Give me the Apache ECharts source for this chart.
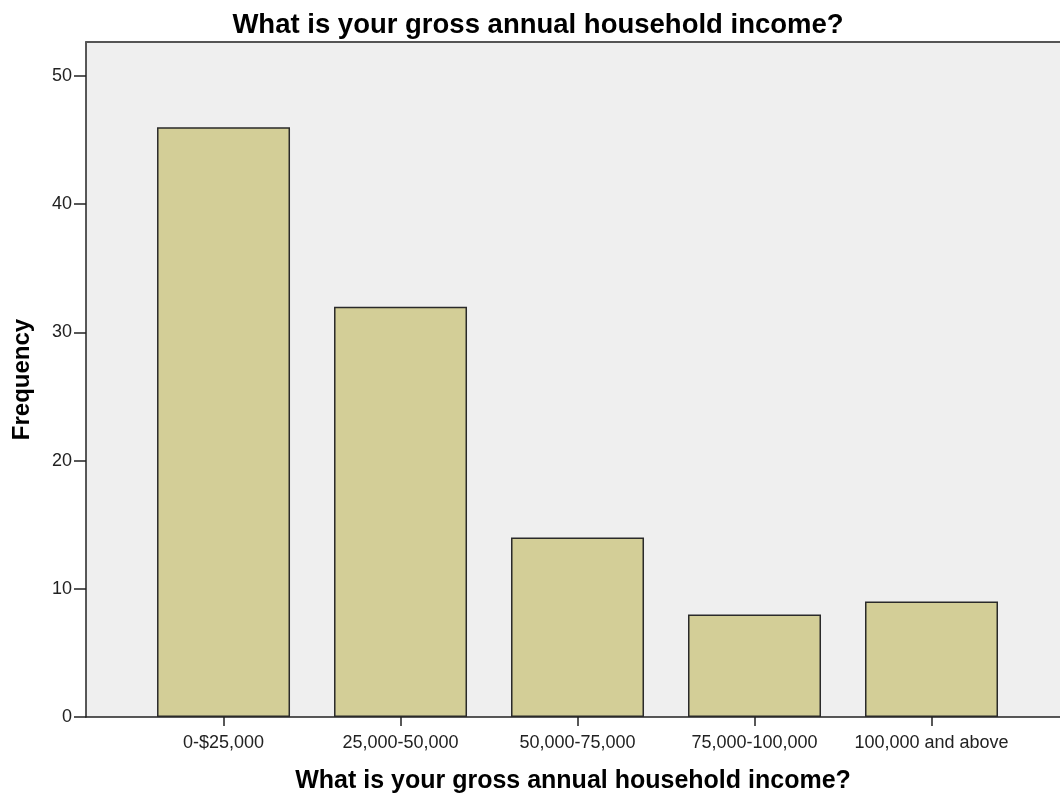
<!DOCTYPE html>
<html>
<head>
<meta charset="utf-8">
<script src="https://cdn.jsdelivr.net/npm/echarts@6/dist/echarts.min.js"></script>
<style>
  html, body { margin: 0; padding: 0; background: #fff; }
  #main { width: 1060px; height: 794px; }
</style>
</head>
<body>
<div id="main"></div>
<script>
// income categories and counts
var categories = ['0-$25,000', '25,000-50,000', '50,000-75,000', '75,000-100,000', '100,000 and above'];
var frequency = [46, 32, 14, 8, 9];
var yTicks = [0, 10, 20, 30, 40, 50];

var points = [];
for (var i = 0; i < frequency.length; i++) {
  points.push([i, frequency[i]]);
}

var font = 'Liberation Sans, Arial, sans-serif';
var myChart = echarts.init(document.getElementById('main'));
var option = {
  animation: false,
  title: {
    text: 'What is your gross annual household income?',
    left: 533,
    textAlign: 'center',
    top: 6,
    textStyle: {
      fontFamily: font,
      fontSize: 27.5,
      fontWeight: 'bold',
      color: '#000'
    }
  },
  grid: {
    left: 86,
    right: 0,
    top: 42,
    bottom: 77,
    outerBoundsMode: 'none',
    show: true,
    backgroundColor: '#efefef',
    borderWidth: 0
  },
  xAxis: [{
    type: 'value',
    min: -0.777,
    max: 4.726,
    name: 'What is your gross annual household income?',
    nameLocation: 'middle',
    nameGap: 52,
    nameTextStyle: {
      fontFamily: font,
      fontSize: 25,
      fontWeight: 'bold',
      color: '#000'
    },
    splitLine: { show: false },
    axisLine: { show: true, onZero: false, lineStyle: { color: '#222', width: 1.5 } },
    axisTick: {
      show: true,
      length: 9,
      lineStyle: { color: '#222', width: 1.5 },
      customValues: [0, 1, 2, 3, 4]
    },
    axisLabel: {
      customValues: [0, 1, 2, 3, 4],
      formatter: function (v) { return categories[Math.round(v)]; },
      margin: 17,
      fontFamily: font,
      fontSize: 18,
      color: '#222'
    }
  }, {
    type: 'value',
    position: 'top',
    min: 0,
    max: 1,
    axisLine: { show: true, onZero: false, lineStyle: { color: '#555', width: 2 } },
    axisTick: { show: false },
    axisLabel: { show: false },
    splitLine: { show: false }
  }],
  yAxis: {
    type: 'value',
    min: 0,
    max: 52.65,
    name: 'Frequency',
    nameLocation: 'middle',
    nameGap: 52,
    nameTextStyle: {
      fontFamily: font,
      fontSize: 24,
      fontWeight: 'bold',
      color: '#000'
    },
    splitLine: { show: false },
    axisLine: { show: true, onZero: false, lineStyle: { color: '#222', width: 1.5 } },
    axisTick: {
      show: true,
      length: 12,
      lineStyle: { color: '#222', width: 1.5 },
      customValues: yTicks
    },
    axisLabel: {
      customValues: yTicks,
      margin: 14,
      fontFamily: font,
      fontSize: 18,
      color: '#222'
    }
  },
  series: [{
    type: 'bar',
    xAxisIndex: 0,
    barWidth: 133,
    data: points,
    itemStyle: {
      color: '#d3ce97',
      borderColor: '#2a2a2a',
      borderWidth: 1.5
    }
  }]
};
myChart.setOption(option);
</script>
</body>
</html>
